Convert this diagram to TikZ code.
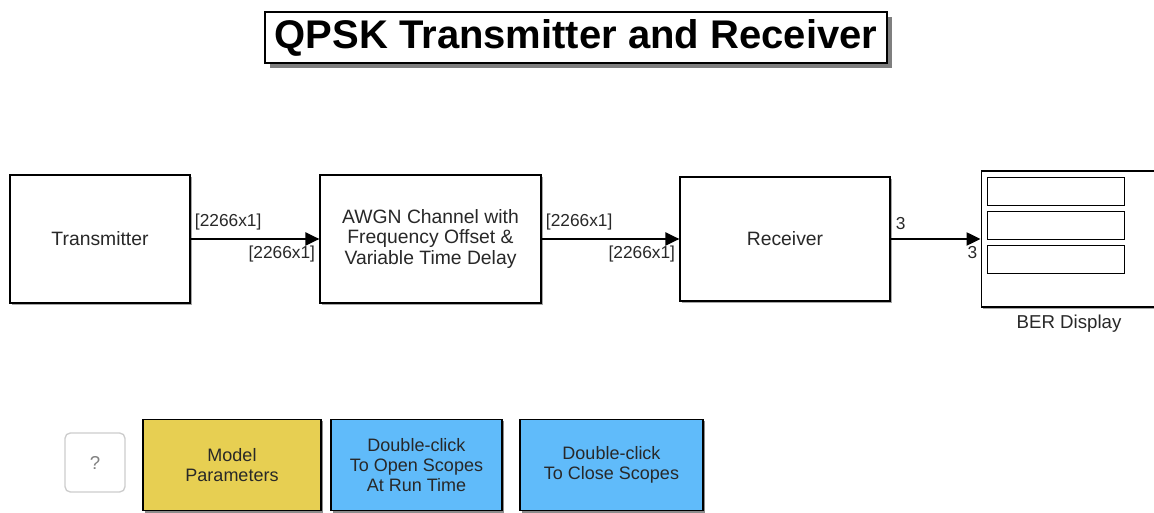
\documentclass[tikz,border=0pt]{standalone}
\usepackage{fontspec}
\setmainfont{Liberation Sans}
\usetikzlibrary{arrows.meta,shadows,calc}
\definecolor{mpyellow}{RGB}{231,207,82}
\definecolor{btnblue}{RGB}{96,187,250}
\definecolor{helpgray}{RGB}{205,205,205}
\definecolor{txtgray}{RGB}{40,40,40}
\begin{document}
\begin{tikzpicture}[x=0.75pt,y=-0.75pt,
  blk/.style={draw=black,line width=1pt,fill=white,rectangle,inner sep=0pt,align=center,
    text=txtgray,font=\fontsize{14.5}{15.6}\selectfont,
    drop shadow={shadow xshift=1.5pt,shadow yshift=-1.5pt,opacity=0.35,fill=black}},
  btn/.style={draw=black,line width=1pt,rectangle,inner sep=0pt,align=center,
    text=txtgray,font=\fontsize{13.5}{15}\selectfont,
    drop shadow={shadow xshift=1.5pt,shadow yshift=-1.5pt,opacity=0.45,fill=black}},
  sig/.style={line width=1pt,-{Triangle[length=10.5pt,width=10pt]}},
  lbl/.style={text=txtgray,font=\fontsize{13}{13}\selectfont,inner sep=0pt}]
\useasboundingbox (0,0) rectangle (1154,513);
\clip (0,0) rectangle (1154,513);
\fill[white] (0,0) rectangle (1154,513);
% title
\node[draw=black,line width=1.2pt,fill=white,inner sep=0pt,minimum width={622*0.75pt},minimum height={51*0.75pt},
  font=\bfseries\fontsize{30}{31}\selectfont,
  drop shadow={shadow xshift=3.5pt,shadow yshift=-3.5pt,opacity=0.5,fill=black}]
  (title) at (576,37.5) {QPSK Transmitter and Receiver};
% blocks
\node[blk,minimum width={180*0.75pt},minimum height={128*0.75pt}] (tx) at (100,239) {Transmitter};
\node[blk,minimum width={221*0.75pt},minimum height={128*0.75pt}] (ch) at (430.5,239) {AWGN Channel with\\Frequency Offset \&\\Variable Time Delay};
\node[blk,minimum width={210*0.75pt},minimum height={124*0.75pt}] (rx) at (785,239) {Receiver};
\node[blk,minimum width={200*0.75pt},minimum height={136*0.75pt},anchor=west] (ber) at (980.5,239) {};
\node[draw=black,line width=1pt,inner sep=0pt,minimum width={137*0.75pt},minimum height={28*0.75pt},anchor=north west] (ber1) at (986.5,177) {};
\node[draw=black,line width=1pt,inner sep=0pt,minimum width={137*0.75pt},minimum height={28*0.75pt},anchor=north west] (ber2) at (986.5,211) {};
\node[draw=black,line width=1pt,inner sep=0pt,minimum width={137*0.75pt},minimum height={28*0.75pt},anchor=north west] (ber3) at (986.5,245) {};
\node[text=txtgray,font=\fontsize{14}{14}\selectfont,inner sep=0pt] (berlbl) at (1069,324) {BER Display};
% signals
\draw[sig] (tx.east) -- (ch.west);
\draw[sig] (ch.east) -- (rx.west);
\draw[sig] (rx.east) -- (ber.west);
\node[lbl,anchor=south west] (l1) at ($(tx.east)+(4,-9)$) {[2266x1]};
\node[lbl,anchor=north east] (l2) at ($(ch.west)+(-4,7)$) {[2266x1]};
\node[lbl,anchor=south west] (l3) at ($(ch.east)+(4,-9)$) {[2266x1]};
\node[lbl,anchor=north east] (l4) at ($(rx.west)+(-4,7)$) {[2266x1]};
\node[lbl,anchor=south west] (l5) at ($(rx.east)+(5,-9)$) {3};
\node[lbl,anchor=north east] (l6) at ($(ber.west)+(-3,7)$) {3};
% bottom buttons
\node[draw=helpgray,line width=1pt,rounded corners=4pt,fill=white,minimum width={60*0.75pt},minimum height={59*0.75pt},
  text=gray,font=\fontsize{14}{14}\selectfont] (help) at (95,462.5) {?};
\node[btn,fill=mpyellow,minimum width={178*0.75pt},minimum height={91*0.75pt}] (mp) at (232,465) {Model\\Parameters};
\node[btn,fill=btnblue,minimum width={171*0.75pt},minimum height={91*0.75pt}] (open) at (416.5,465) {Double-click\\To Open Scopes\\At Run Time};
\node[btn,fill=btnblue,minimum width={183*0.75pt},minimum height={91*0.75pt}] (close) at (611.5,465) {Double-click\\To Close Scopes};
\end{tikzpicture}
\end{document}
